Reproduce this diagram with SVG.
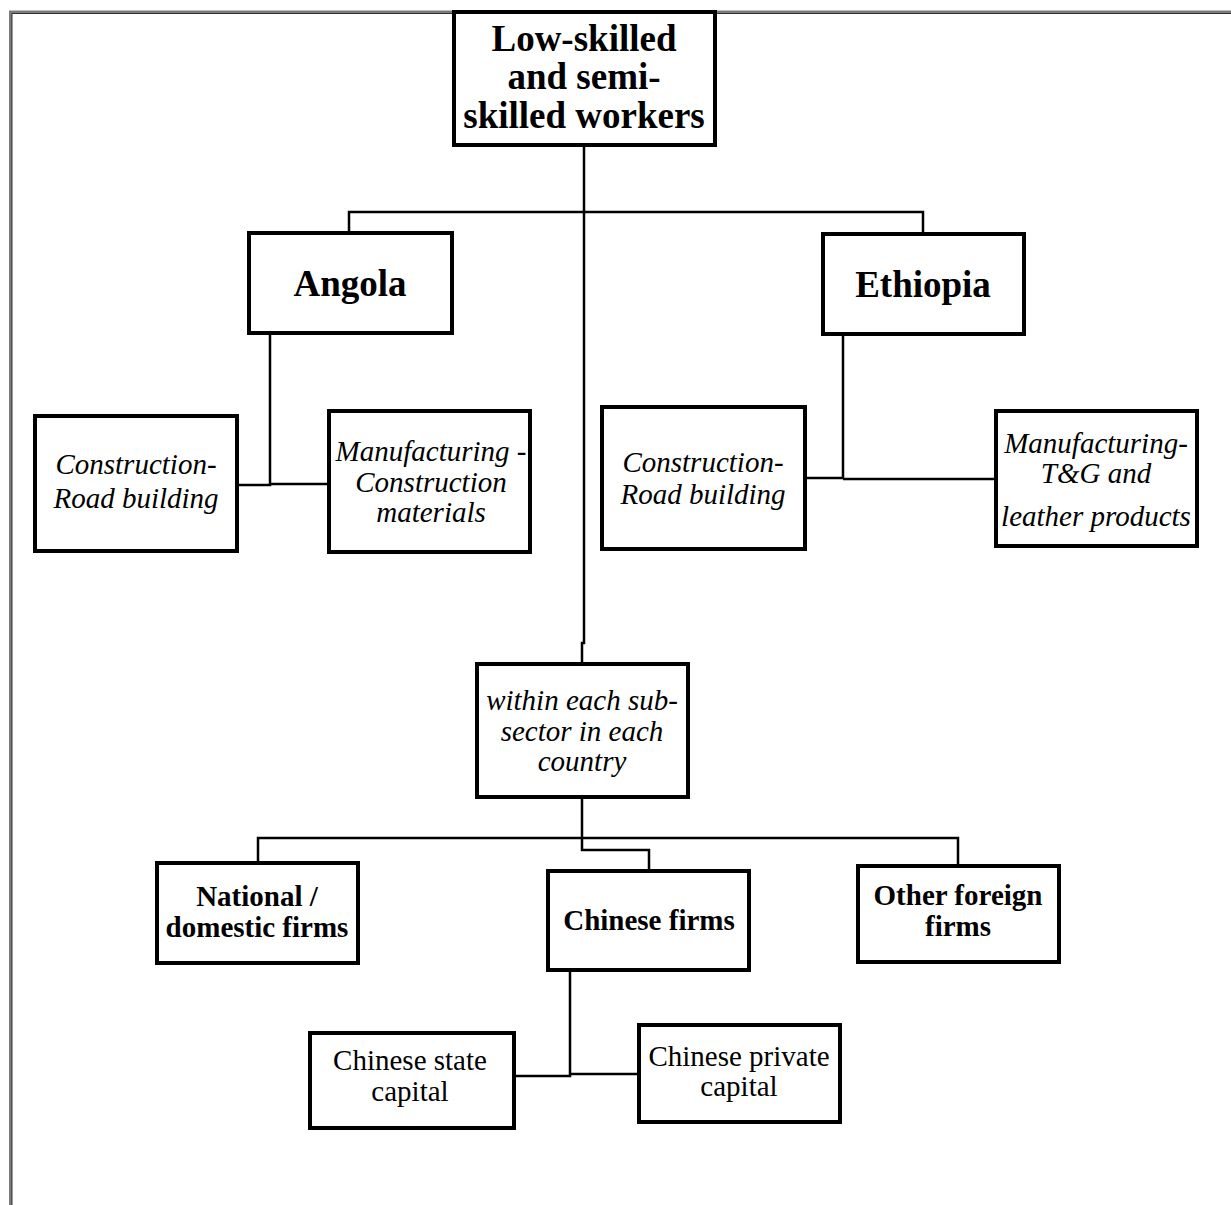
<svg xmlns="http://www.w3.org/2000/svg" width="1231" height="1205" viewBox="0 0 1231 1205">
<style>
.box{fill:#fff;stroke:#000;stroke-width:4}
.ln{fill:none;stroke:#000;stroke-width:2.5}
text{font-family:"Liberation Serif","Times New Roman",serif;fill:#000;text-anchor:middle}
.b{font-weight:bold}
.i{font-style:italic}
.s{font-size:29px}
.l{font-size:37px}
</style>
<rect x="0" y="0" width="1231" height="1205" fill="#fff"/>
<g id="frame">
<path d="M10.5 1205 V12 H1231" fill="none" stroke="#7a7a7a" stroke-width="3"/>
<path d="M12 1205 V13.5 H1231" fill="none" stroke="#333" stroke-width="1"/>
</g>
<g id="connectors">
<path class="ln" d="M584 145 V643 H582 V663"/>
<path class="ln" d="M349 232 V212 H923 V233"/>
<path class="ln" d="M270 333 V485 H237 M270 484 H328"/>
<path class="ln" d="M843 334 V478 H805 M843 479 H995"/>
<path class="ln" d="M582 797 V850 H649 V870 M582 838 H258 V862 M582 838 H958 V865"/>
<path class="ln" d="M570 970 V1076 H514 M570 1074 H638"/>
</g>
<g id="n-top">
<rect class="box" x="454" y="12" width="261" height="133"/>
<text class="b l" x="584" y="51">Low-skilled</text>
<text class="b l" x="584" y="89">and semi-</text>
<text class="b l" x="584" y="128">skilled workers</text>
</g>
<g id="n-angola">
<rect class="box" x="249" y="233" width="203" height="100"/>
<text class="b l" x="350" y="296">Angola</text>
</g>
<g id="n-ethiopia">
<rect class="box" x="823" y="234" width="201" height="100"/>
<text class="b l" x="923" y="297">Ethiopia</text>
</g>
<g id="n-ang-constr">
<rect class="box" x="35" y="416" width="202" height="135"/>
<text class="i s" x="136" y="474">Construction-</text>
<text class="i s" x="136" y="508">Road building</text>
</g>
<g id="n-ang-manuf">
<rect class="box" x="329" y="411" width="201" height="141"/>
<text class="i s" x="431" y="461">Manufacturing -</text>
<text class="i s" x="431" y="492">Construction</text>
<text class="i s" x="431" y="522">materials</text>
</g>
<g id="n-eth-constr">
<rect class="box" x="602" y="407" width="203" height="142"/>
<text class="i s" x="703" y="472">Construction-</text>
<text class="i s" x="703" y="504">Road building</text>
</g>
<g id="n-eth-manuf">
<rect class="box" x="996" y="411" width="201" height="135"/>
<text class="i s" x="1096" y="453">Manufacturing-</text>
<text class="i s" x="1096" y="483">T&amp;G and</text>
<text class="i s" x="1096" y="526">leather products</text>
</g>
<g id="n-within">
<rect class="box" x="477" y="664" width="211" height="133"/>
<text class="i s" x="582" y="710">within each sub-</text>
<text class="i s" x="582" y="741">sector in each</text>
<text class="i s" x="582" y="771">country</text>
</g>
<g id="n-national">
<rect class="box" x="157" y="863" width="201" height="100"/>
<text class="b s" x="257" y="906">National /</text>
<text class="b s" x="257" y="937">domestic firms</text>
</g>
<g id="n-chinese">
<rect class="box" x="548" y="871" width="201" height="99"/>
<text class="b s" x="649" y="930">Chinese firms</text>
</g>
<g id="n-other">
<rect class="box" x="858" y="866" width="201" height="96"/>
<text class="b s" x="958" y="905">Other foreign</text>
<text class="b s" x="958" y="936">firms</text>
</g>
<g id="n-state">
<rect class="box" x="310" y="1033" width="204" height="95"/>
<text class="s" x="410" y="1070">Chinese state</text>
<text class="s" x="410" y="1101">capital</text>
</g>
<g id="n-private">
<rect class="box" x="639" y="1025" width="201" height="97"/>
<text class="s" x="739" y="1066">Chinese private</text>
<text class="s" x="739" y="1096">capital</text>
</g>
</svg>
